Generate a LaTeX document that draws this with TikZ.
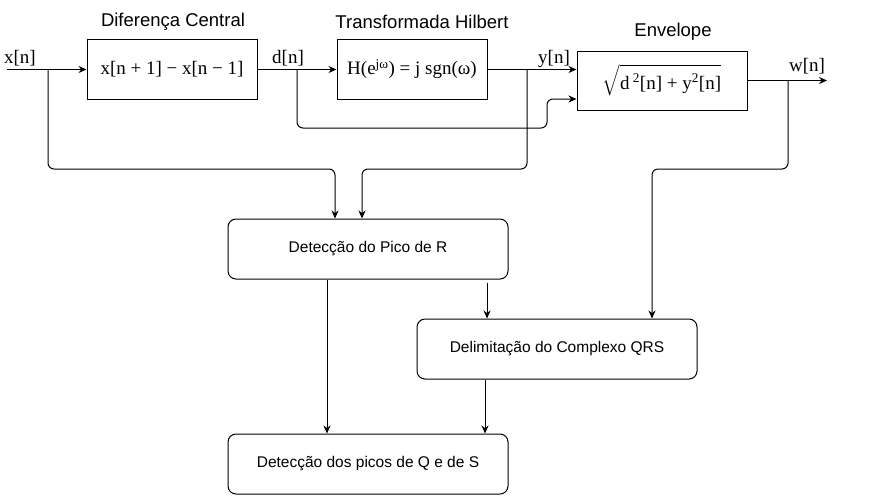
\documentclass[tikz,border=0pt]{standalone}
\usepackage{amsmath}
\usepackage{fontspec}
\setmainfont{Liberation Serif}
\setsansfont{Liberation Sans}
\usetikzlibrary{arrows.meta,calc}
\tikzset{
  sq/.style={draw, line width=1pt, inner sep=0pt},
  rbox/.style={draw, line width=1pt, rounded corners=8pt, minimum width=280pt, minimum height=60pt, inner sep=0pt, font=\sffamily\fontsize{15.5}{18}\selectfont},
  ttl/.style={font=\sffamily\fontsize{18.5}{22}\selectfont, inner sep=0pt},
  sig/.style={font=\fontsize{19}{22}\selectfont, inner sep=0pt},
  arr/.style={line width=1pt, rounded corners=6pt, -{Stealth[length=8pt,width=7pt]}},
}
\begin{document}
\begin{tikzpicture}[x=1pt,y=-1pt]
\useasboundingbox (0,0) rectangle (869,496);
% top blocks
\node[sq, minimum width=170pt, minimum height=60pt, font=\fontsize{19}{22}\selectfont] (b1) at (172,69.5) {x[n + 1] − x[n − 1]};
\node[sq, minimum width=150pt, minimum height=60pt, font=\fontsize{19}{22}\selectfont] (b2) at (412,69.5) {H(e\textsuperscript{jω}) = j sgn(ω)};
\node[sq, minimum width=170pt, minimum height=59pt, font=\fontsize{19}{22}\selectfont] (b3) at (662,80.5) {$\sqrt{\rule[-6pt]{0pt}{27pt}\text{d\,\textsuperscript{2}[n] + y\textsuperscript{2}[n]}}$};
% titles
\node[ttl] (t1) at (173,22) {Diferença Central};
\node[ttl] (t2) at (422,22) {Transformada Hilbert};
\node[ttl] (t3) at (673,32) {Envelope};
% signal labels
\node[sig] (lx) at (20,58) {x[n]};
\node[sig] (ld) at (288,58) {d[n]};
\node[sig] (ly) at (554,59) {y[n]};
\node[sig] (lw) at (807,66) {w[n]};
% lower blocks
\node[rbox] (bR) at (368,249) {Detecção do Pico de R};
\node[rbox] (bQRS) at (557,349) {Delimitação do Complexo QRS};
\node[rbox] (bQS) at (368,464) {Detecção dos picos de Q e de S};
% coordinates
\coordinate (xin) at (7,69.5);
\coordinate (xb) at (48,69.5);
\coordinate (xk) at (335,169);
\coordinate (db) at (297,69.5);
\coordinate (dk) at (547,128);
\coordinate (dk2) at (547,99);
\coordinate (yb) at (527,69.5);
\coordinate (yk) at (362,169);
\coordinate (wout) at (827,80.5);
\coordinate (wb) at (788,80.5);
\coordinate (wk) at (652,169);
% main chain
\draw[arr] (xin) -- (b1.west);
\draw[arr] (b1.east) -- (b2.west);
\draw[arr] (b2.east) -- (b2.east -| b3.west);
\draw[arr] (b3.east) -- (wout);
% branches
\draw[arr] (xb) |- (xk) -- (xk |- bR.north);
\draw[arr] (db) |- (dk) -- (dk2) -- (dk2 -| b3.west);
\draw[arr] (yb) |- (yk) -- (yk |- bR.north);
\draw[arr] (wb) |- (wk) -- (wk |- bQRS.north);
% lower connections
\draw[arr] ([xshift=-41pt]bR.south) -- ([xshift=-41pt]bQS.north);
\draw[arr] ([xshift=119pt,yshift=-3pt]bR.south) -- ([xshift=119pt]bR.south |- bQRS.north);
\draw[arr] ([xshift=-72pt]bQRS.south) -- ([xshift=-72pt]bQRS.south |- bQS.north);
\end{tikzpicture}
\end{document}
